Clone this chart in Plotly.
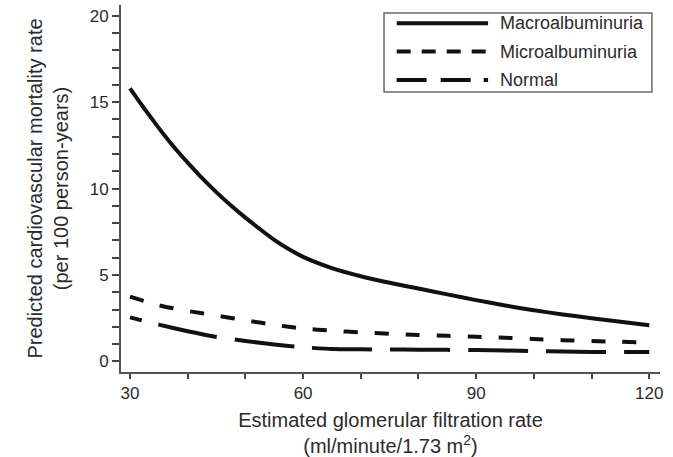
import plotly.graph_objects as go

# Estimated GFR (ml/minute/1.73 m2) at which predicted rates are evaluated
egfr_macro = [30, 32.5, 35, 37.5, 40, 42.5, 45, 47.5, 50, 52.5, 55, 57.5, 60,
              65, 70, 75, 80, 85, 90, 95, 100, 105, 110, 115, 120]
egfr = [30, 35, 40, 45, 50, 55, 60, 65, 70, 75, 80, 85, 90, 95, 100, 105, 110, 115, 120]

# Predicted cardiovascular mortality rate (per 100 person-years)
rate_macro = [15.8, 14.62, 13.5, 12.45, 11.5, 10.6, 9.78, 9.02, 8.32, 7.66, 7.03, 6.5, 6.05,
              5.4, 4.93, 4.55, 4.22, 3.88, 3.55, 3.24, 2.96, 2.72, 2.5, 2.3, 2.1]
rate_micro = [3.75, 3.25, 2.92, 2.65, 2.38, 2.12, 1.9, 1.78, 1.68, 1.6, 1.53, 1.48,
              1.43, 1.37, 1.3, 1.23, 1.18, 1.14, 1.1]
rate_normal = [2.55, 2.13, 1.75, 1.42, 1.18, 0.98, 0.82, 0.72, 0.7, 0.69, 0.68, 0.67,
               0.66, 0.63, 0.6, 0.57, 0.55, 0.55, 0.55]

series_names = ["Macroalbuminuria", "Microalbuminuria", "Normal"]

FONT = "Liberation Sans, Arial, Helvetica, sans-serif"
TEXT = "#2b2b2b"
INK = "#111111"
AXIS = "#555555"

dash_micro = "14px,17px"
dash_normal = "12px,17px," + ",".join(["60px,18px"] * 8)

fig = go.Figure()
fig.add_trace(go.Scatter(x=egfr_macro, y=rate_macro, mode="lines", name=series_names[0],
                         line=dict(color=INK, width=4, shape="spline", smoothing=0.5)))
fig.add_trace(go.Scatter(x=egfr, y=rate_micro, mode="lines", name=series_names[1],
                         line=dict(color=INK, width=4, dash=dash_micro,
                                   shape="spline", smoothing=0.5)))
fig.add_trace(go.Scatter(x=egfr, y=rate_normal, mode="lines", name=series_names[2],
                         line=dict(color=INK, width=4, dash=dash_normal,
                                   shape="spline", smoothing=0.5)))

# Boxed key in the upper right, with long line samples
key_x0, key_x1 = 0.488, 0.985
key_y0, key_y1 = 0.763, 0.978
sample_x0, sample_x1 = 0.5115, 0.681
text_x = 0.699
rows_y = [0.950, 0.873, 0.7956]
key_dashes = ["solid", "14px,11px", "30px,14px,30px,13px,6px"]

shapes = [dict(type="rect", xref="paper", yref="paper",
               x0=key_x0, x1=key_x1, y0=key_y0, y1=key_y1,
               line=dict(color="#6a6a6a", width=1.5), fillcolor="white", layer="above")]
annotations = []
for name, yy, dash in zip(series_names, rows_y, key_dashes):
    shapes.append(dict(type="line", xref="paper", yref="paper",
                       x0=sample_x0, x1=sample_x1, y0=yy, y1=yy, layer="above",
                       line=dict(color=INK, width=4, dash=dash)))
    annotations.append(dict(xref="paper", yref="paper", x=text_x, y=yy,
                            xanchor="left", yanchor="middle", showarrow=False,
                            text=name, font=dict(family=FONT, size=18, color=TEXT)))

fig.update_layout(
    width=673, height=457,
    margin=dict(l=121, r=13, t=5, b=85),
    paper_bgcolor="white", plot_bgcolor="white",
    showlegend=False,
    font=dict(family=FONT, size=17, color=TEXT),
    shapes=shapes, annotations=annotations,
)

fig.update_xaxes(
    range=[28.44, 121.86], tick0=30, dtick=30, automargin=False,
    ticks="outside", ticklen=5, tickwidth=2, tickcolor="#444",
    minor=dict(dtick=10, tick0=30, ticks="outside", ticklen=5, tickwidth=2, tickcolor="#444"),
    showline=True, linecolor=AXIS, linewidth=2, showgrid=False, zeroline=False,
    tickfont=dict(size=17),
    title=dict(text="Estimated glomerular filtration rate<br>(ml/minute/1.73 m<sup>2</sup>)",
               font=dict(size=20), standoff=15),
)
fig.update_yaxes(
    range=[-0.61, 20.62], tick0=0, dtick=5, automargin=False,
    ticks="outside", ticklen=7, tickwidth=2, tickcolor="#444",
    minor=dict(dtick=1, tick0=0, ticks="outside", ticklen=7, tickwidth=2, tickcolor="#444"),
    showline=True, linecolor=AXIS, linewidth=2, showgrid=False, zeroline=False,
    tickfont=dict(size=17),
    title=dict(text="Predicted cardiovascular mortality rate<br>(per 100 person-years)",
               font=dict(size=20), standoff=16),
)

fig.write_html("out.html")
